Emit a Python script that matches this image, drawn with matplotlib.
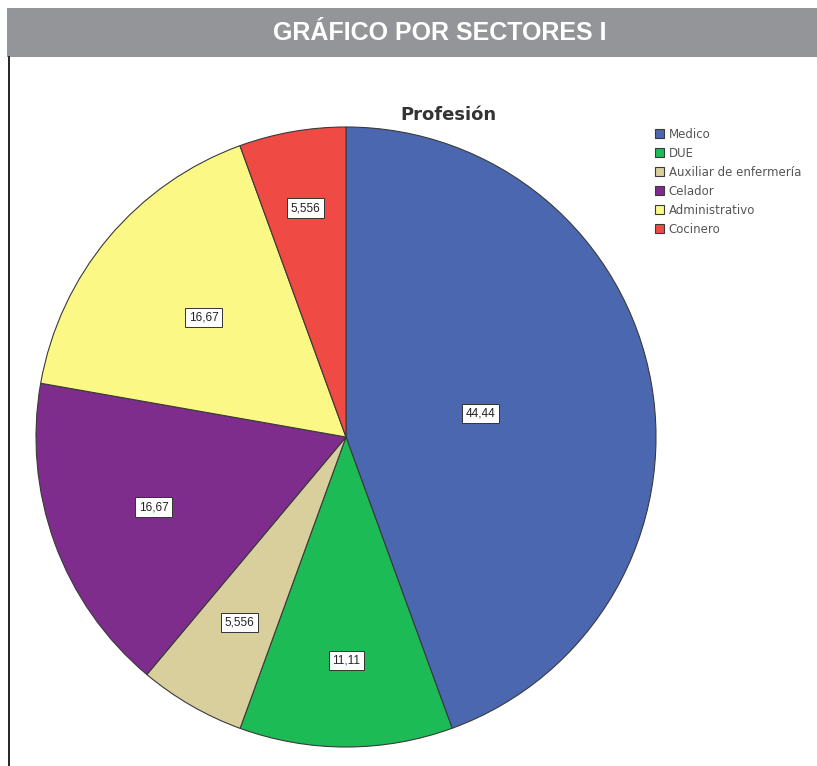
import numpy as np
import matplotlib.pyplot as plt
from matplotlib.patches import Rectangle

# data (percent of respondents by profession)
categories = ["Medico", "DUE", "Auxiliar de enfermería", "Celador", "Administrativo", "Cocinero"]
values = [44.44, 11.11, 5.556, 16.67, 16.67, 5.556]
value_labels = ["44,44", "11,11", "5,556", "16,67", "16,67", "5,556"]
colors = ["#4a67b0", "#1dbb55", "#d8cf9d", "#7e2d8c", "#fbf886", "#ef4a44"]
# how far from the centre each value box sits (fraction of radius)
label_dist = [0.44, 0.72, 0.69, 0.66, 0.60, 0.75]

fig = plt.figure(figsize=(8.17, 7.66), dpi=100)
fig.patch.set_facecolor("white")

# grey header band and left rule
fig.patches.append(Rectangle((7 / 817, 1 - 57 / 766), 1, 49 / 766, transform=fig.transFigure,
                             facecolor="#939598", edgecolor="none"))
fig.text(440 / 817, 1 - 33 / 766, "GRÁFICO POR SECTORES I", color="white", fontsize=18,
         fontweight="bold", family="Liberation Sans", ha="center", va="center")
fig.add_artist(plt.Line2D([9 / 817, 9 / 817], [0, 1 - 57 / 766], transform=fig.transFigure,
                          color="black", lw=1.2))

ax = fig.add_axes([36 / 817, 1 - 747 / 766, 620 / 817, 620 / 766])
wedges, _ = ax.pie(values, colors=colors, startangle=90, counterclock=False, radius=1,
                   wedgeprops=dict(edgecolor="#3a3a3a", linewidth=0.8))
ax.set_xlim(-1.0, 1.0)
ax.set_ylim(-1.0, 1.0)
ax.set_aspect("auto")
ax.axis("off")

for w, lab, d in zip(wedges, value_labels, label_dist):
    ang = np.deg2rad((w.theta1 + w.theta2) / 2)
    ax.text(d * np.cos(ang), d * np.sin(ang), lab, ha="center", va="center", fontsize=8.5,
            color="#222222", family="Liberation Sans",
            bbox=dict(boxstyle="square,pad=0.3", facecolor="white", edgecolor="#333333", lw=0.7))

fig.text(448 / 817, 1 - 115 / 766, "Profesión", fontsize=13, fontweight="bold",
         color="#333333", ha="center", va="center")

fig.legend(wedges, categories, loc="upper left", bbox_to_anchor=(655 / 817, 1 - 128 / 766),
           frameon=False, handlelength=0.8, handleheight=0.8,
           handletextpad=0.35, labelspacing=0.5, borderaxespad=0, borderpad=0,
           labelcolor="#555555", prop={"family": "DejaVu Sans", "size": 8.5})

fig.savefig("out.png", dpi=100)
